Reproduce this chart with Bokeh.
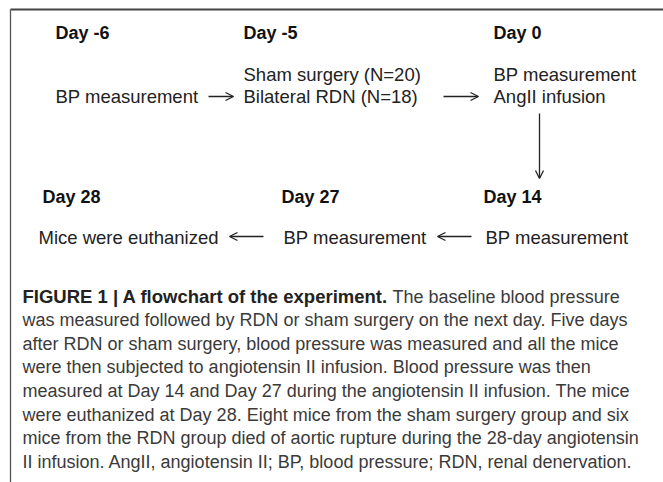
from bokeh.plotting import figure
from bokeh.models import Range1d, Arrow, OpenHead
from bokeh.core.properties import value
from bokeh.embed import file_html
from bokeh.resources import INLINE

# ---- content ----
day_labels = ["Day -6", "Day -5", "Day 0", "Day 28", "Day 27", "Day 14"]
step_texts = ["BP measurement", "Sham surgery  (N=20)", "Bilateral RDN (N=18)",
              "BP measurement", "AngII  infusion",
              "Mice were euthanized", "BP measurement", "BP measurement"]
caption_bold = "FIGURE 1 | A flowchart of the experiment."
caption_lines = [
    "The baseline blood pressure",
    "was measured followed by RDN or sham surgery on the next day. Five days",
    "after RDN or sham surgery, blood pressure was measured and all the mice",
    "were then subjected to angiotensin II infusion. Blood pressure was then",
    "measured at Day 14 and Day 27 during the angiotensin II infusion. The mice",
    "were euthanized at Day 28. Eight mice from the sham surgery group and six",
    "mice from the RDN group died of aortic rupture during the 28-day angiotensin",
    "II infusion. AngII, angiotensin II; BP, blood pressure; RDN, renal denervation.",
]

# ---- layout (page pixel coordinates, text y = vertical centre) ----
day_x = [55, 243, 493, 42, 281, 483]
day_y = [32, 32, 32, 196, 196, 196]
step_x = [55, 243, 243, 493, 493, 38, 283, 485]
step_y = [96, 74, 96, 74, 96, 237, 237, 237]
arrows = [  # x0, y0, x1, y1
    (208, 96, 233, 96),
    (443, 96, 478, 96),
    (539, 113, 539, 178),
    (263, 236, 229, 236),
    (471, 236, 437, 236),
]
cap_x0 = 22
cap_first_rest_x = 392
cap_y0 = 296
cap_dy = 23.6

W, H = 663, 482
p = figure(width=W, height=H, x_range=Range1d(0, W), y_range=Range1d(H, 0),
           output_backend="svg", toolbar_location=None, min_border=0,
           outline_line_color=None, background_fill_color="white")
p.axis.visible = False
p.grid.visible = False

# frame lines
p.line([10, 663], [9, 9], line_color="#444444", line_width=2)
p.line([10, 10], [9, 482], line_color="#555555", line_width=1.3)

font = value("Liberation Sans")

p.text(x=day_x, y=day_y, text=day_labels, text_font=font, text_font_size="18px",
       text_font_style="bold", text_color="#111111", text_baseline="middle")
p.text(x=step_x, y=step_y, text=step_texts, text_font=font, text_font_size="18.5px",
       text_color="#222222", text_baseline="middle")

for (x0, y0, x1, y1) in arrows:
    p.add_layout(Arrow(x_start=x0, y_start=y0, x_end=x1, y_end=y1,
                       line_color="#222222", line_width=1.3,
                       end=OpenHead(size=8, line_color="#222222", line_width=1.3)))

# caption
p.text(x=[cap_x0], y=[cap_y0], text=[caption_bold], text_font=font,
       text_font_size="18.5px", text_font_style="bold", text_color="#222222",
       text_baseline="middle")
cx = [cap_first_rest_x] + [cap_x0] * (len(caption_lines) - 1)
cy = [cap_y0 + i * cap_dy for i in range(len(caption_lines))]
p.text(x=cx, y=cy, text=caption_lines, text_font=font, text_font_size="18px",
       text_color="#3a3a3a", text_baseline="middle")

open("out.html", "w").write(file_html(p, INLINE))
